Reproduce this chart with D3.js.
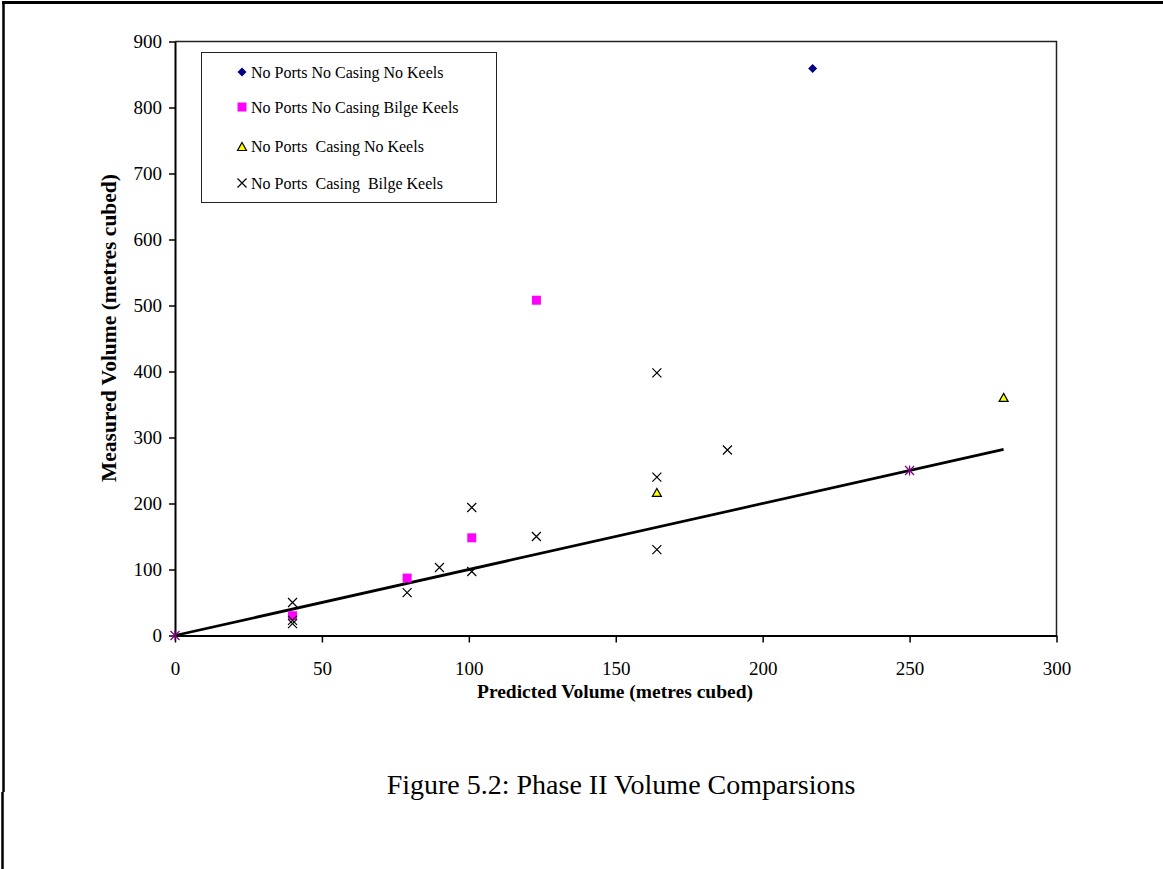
<!DOCTYPE html>
<html lang="en">
    <head>
        <meta charset="utf-8">
        <title>Phase II Volume Comparisons</title>
        <script type="text/javascript" src="https://cdn.jsdelivr.net/npm/d3@7/dist/d3.min.js"></script>
        <style type="text/css">
			body { margin: 0; background: #fff; }
			text { font-family: "Liberation Serif", "Times New Roman", serif; }
		</style>
    </head>
    <body>
        <script type="text/javascript">

			// data (predicted, measured)
			var noKeels     = [[217, 859]];
			var bilgeKeels  = [[40, 30], [79, 87], [101, 148], [123, 508]];
			var casingNoKeel = [[164, 216], [282, 360]];
			var casingBilge = [[40, 50], [40, 23], [40, 18], [79, 65], [90, 103], [101, 97], [101, 194],
			                   [123, 150], [164, 398], [164, 240], [164, 130], [188, 281]];
			var equalPts    = [[0, 0], [250, 250]];
			var fitLine     = [[0, 0], [282, 282]];

			var xTicks = [0, 50, 100, 150, 200, 250, 300];
			var yTicks = [0, 100, 200, 300, 400, 500, 600, 700, 800, 900];
			var legendNames = ["No Ports No Casing No Keels", "No Ports No Casing Bilge Keels",
			                   "No Ports  Casing No Keels", "No Ports  Casing  Bilge Keels"];

			var w = 1163, h = 869;
			var pl = 175, pr = 1056.5, pt = 41.5, pb = 635.5;

			var svg = d3.select("body").append("svg")
						.attr("width", w)
						.attr("height", h);

			// page border (top + left only, the rest is cropped)
			svg.append("line").attr("x1", 2).attr("x2", w).attr("y1", 2.5).attr("y2", 2.5)
				.attr("stroke", "#000").attr("stroke-width", 3);
			svg.append("line").attr("x1", 3.5).attr("x2", 3.5).attr("y1", 1).attr("y2", 792)
				.attr("stroke", "#000").attr("stroke-width", 2.5);
			svg.append("line").attr("x1", 2.5).attr("x2", 2.5).attr("y1", 792).attr("y2", h)
				.attr("stroke", "#000").attr("stroke-width", 2.5);

			var x = d3.scaleLinear().domain([0, 300]).range([pl, pr]);
			var y = d3.scaleLinear().domain([0, 900]).range([pb, pt]);

			// plot frame
			svg.append("path")
				.attr("d", "M" + pl + "," + pt + "H" + pr + "V" + pb)
				.attr("fill", "none").attr("stroke", "#222").attr("stroke-width", 1.5);

			var xAxis = svg.append("g")
				.attr("transform", "translate(0," + pb + ")")
				.call(d3.axisBottom(x).tickValues(xTicks).tickSize(7).tickPadding(19).tickSizeOuter(0));
			var yAxis = svg.append("g")
				.attr("transform", "translate(" + pl + ",0)")
				.call(d3.axisLeft(y).tickValues(yTicks).tickSize(6).tickPadding(7).tickSizeOuter(0));

			[xAxis, yAxis].forEach(function(a) {
				a.select(".domain").attr("stroke", "#000").attr("stroke-width", 2);
				a.selectAll(".tick line").attr("stroke", "#000").attr("stroke-width", 1.5);
				a.selectAll(".tick text")
					.attr("font-family", "Liberation Serif")
					.attr("font-size", 19)
					.attr("fill", "#000");
			});

			// axis titles
			svg.append("text")
				.attr("x", 615)
				.attr("y", 698)
				.attr("text-anchor", "middle")
				.attr("font-size", 19.5).attr("font-weight", "bold")
				.text("Predicted Volume (metres cubed)");
			svg.append("text")
				.attr("transform", "translate(116,328) rotate(-90)")
				.attr("text-anchor", "middle")
				.attr("font-size", 21.5).attr("font-weight", "bold")
				.text("Measured Volume (metres cubed)");

			// y = x line
			svg.append("path")
				.datum(fitLine)
				.attr("d", d3.line().x(function(d){ return x(d[0]); }).y(function(d){ return y(d[1]); }))
				.attr("stroke", "#000").attr("stroke-width", 2.7).attr("fill", "none");

			// marker helpers
			function diamond(g, cx, cy) {
				g.append("path")
					.attr("d", "M" + cx + "," + (cy - 4.5) + "l4.5,4.5l-4.5,4.5l-4.5,-4.5z")
					.attr("fill", "#000080");
			}
			function square(g, cx, cy) {
				g.append("rect").attr("x", cx - 4.5).attr("y", cy - 4.5)
					.attr("width", 9).attr("height", 9).attr("fill", "#ff00ff");
			}
			function triangle(g, cx, cy) {
				g.append("path")
					.attr("d", "M" + cx + "," + (cy - 4.5) + "L" + (cx + 4.5) + "," + (cy + 3.5) + "L" + (cx - 4.5) + "," + (cy + 3.5) + "Z")
					.attr("fill", "#ffff00").attr("stroke", "#000").attr("stroke-width", 1.2);
			}
			function cross(g, cx, cy) {
				g.append("path")
					.attr("d", "M" + (cx - 4.5) + "," + (cy - 4.5) + "l9,9M" + (cx + 4.5) + "," + (cy - 4.5) + "l-9,9")
					.attr("stroke", "#000").attr("stroke-width", 1.2);
			}
			function star(g, cx, cy) {
				g.append("path")
					.attr("d", "M" + (cx - 4.5) + "," + (cy - 4.5) + "l9,9M" + (cx + 4.5) + "," + (cy - 4.5) + "l-9,9M" + cx + "," + (cy - 5) + "v10")
					.attr("stroke", "#800080").attr("stroke-width", 1.2);
			}

			var pts = svg.append("g");
			var series = [[noKeels, diamond], [bilgeKeels, square], [casingNoKeel, triangle], [casingBilge, cross], [equalPts, star]];
			series.forEach(function(s) {
				s[0].forEach(function(d) { s[1](pts, x(d[0]), y(d[1])); });
			});

			// legend
			var lg = svg.append("g");
			lg.append("rect").attr("x", 201.5).attr("y", 52.5).attr("width", 295).attr("height", 150)
				.attr("fill", "#fff").attr("stroke", "#222").attr("stroke-width", 1);
			var legY = [72, 107, 146, 183];
			var legMarks = [diamond, square, triangle, cross];
			legendNames.forEach(function(name, i) {
				legMarks[i](lg, 242, legY[i] + (i == 2 ? 1 : 0));
				lg.append("text")
					.attr("x", 251).attr("y", legY[i] + 5.5)
					.attr("font-size", 16)
					.style("white-space", "pre")
					.text(name);
			});

			// caption
			svg.append("text")
				.attr("x", 621).attr("y", 794)
				.attr("text-anchor", "middle")
				.attr("font-size", 28)
				.text("Figure 5.2: Phase II Volume Comparsions");

        </script>
    </body>
</html>
